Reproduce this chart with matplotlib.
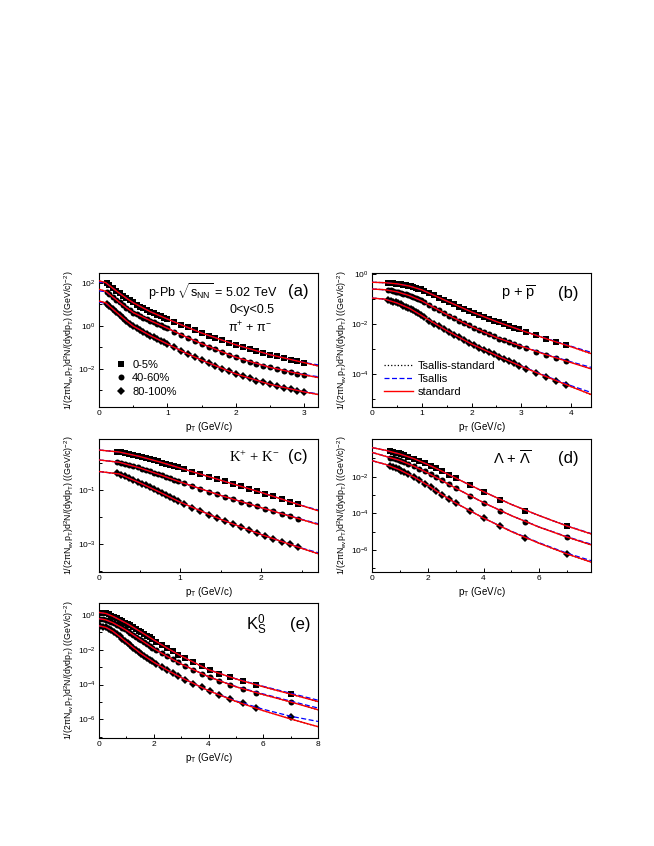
import matplotlib
matplotlib.use('Agg')
import matplotlib.pyplot as plt
from matplotlib import ticker
from matplotlib.lines import Line2D

plt.rcParams['font.family'] = ['Liberation Sans', 'DejaVu Sans']
plt.rcParams['mathtext.fontset'] = 'custom'
plt.rcParams['mathtext.rm'] = 'Liberation Sans'
plt.rcParams['mathtext.it'] = 'Liberation Sans:italic'
plt.rcParams['mathtext.bf'] = 'Liberation Sans:bold'
plt.rcParams['mathtext.default'] = 'regular'

centralities = ['0-5%', '40-60%', '80-100%']
fit_names = ['Tsallis-standard', 'Tsallis', 'standard']

# -- (a) pi+ + pi- -- #
pi_pt = [0.11, 0.15, 0.2, 0.25, 0.3, 0.35, 0.4, 0.45, 0.5, 0.55, 0.6, 0.65, 0.7,
         0.75, 0.8, 0.85, 0.9, 0.95, 1.0, 1.1, 1.2, 1.3, 1.4, 1.5, 1.6, 1.7, 1.8,
         1.9, 2.0, 2.1, 2.2, 2.3, 2.4, 2.5, 2.6, 2.7, 2.8, 2.9, 3.0]
pi_0_5 = [93, 74, 56, 43, 32, 25, 19, 15, 12, 9.5, 7.8, 6.5, 5.4, 4.5, 3.8, 3.2,
          2.75, 2.34, 2.04, 1.51, 1.12, 0.83, 0.62, 0.457, 0.347, 0.269, 0.209,
          0.162, 0.129, 0.102, 0.083, 0.068, 0.055, 0.0447, 0.0372, 0.0309,
          0.0263, 0.0224, 0.0191]
pi_40_60 = [37, 29.5, 21.9, 16.2, 12.0, 9.1, 6.9, 5.25, 4.07, 3.39, 2.85, 2.40,
            2.04, 1.72, 1.45, 1.23, 1.05, 0.89, 0.76, 0.537, 0.380, 0.275, 0.200,
            0.145, 0.107, 0.0794, 0.0589, 0.0447, 0.0339, 0.0263, 0.0209, 0.0170,
            0.0138, 0.0115, 0.00955, 0.00813, 0.00692, 0.00589, 0.00513]
pi_80_100 = [10.7, 8.3, 6.0, 4.37, 3.16, 2.29, 1.70, 1.26, 0.955, 0.759, 0.617,
             0.501, 0.417, 0.347, 0.288, 0.240, 0.200, 0.170, 0.141, 0.100,
             0.0692, 0.0490, 0.0347, 0.0251, 0.0182, 0.0135, 0.0100, 0.00759,
             0.00575, 0.00447, 0.00355, 0.00282, 0.00229, 0.00186, 0.00155,
             0.00132, 0.00112, 0.000955, 0.000832]
pi_fit_pt = [0, 0.1, 0.2, 0.3, 0.4, 0.5, 0.75, 1.0, 1.25, 1.5, 2.0, 2.5, 3.0, 3.2]
pi_std = [[123, 100, 56, 32, 19, 11.7, 4.47, 2.04, 0.955, 0.457, 0.129, 0.0447, 0.0191, 0.0135],
          [49, 39.8, 21.9, 12.0, 6.9, 4.07, 1.72, 0.759, 0.324, 0.145, 0.0339, 0.0115, 0.00513, 0.00389],
          [14.1, 11.5, 6.0, 3.16, 1.70, 0.955, 0.347, 0.141, 0.0575, 0.0251, 0.00575, 0.00186, 0.000832, 0.000631]]
pi_tsa = [[107, 98, 56, 32, 19, 11.7, 4.47, 2.04, 0.955, 0.457, 0.129, 0.0447, 0.0195, 0.0151],
          [41.7, 38, 21.9, 12.0, 6.9, 4.07, 1.72, 0.759, 0.324, 0.145, 0.0339, 0.0115, 0.0053, 0.00427],
          [12.6, 11.0, 6.0, 3.16, 1.70, 0.955, 0.347, 0.141, 0.0575, 0.0251, 0.00575, 0.00186, 0.00085, 0.000676]]

# -- (b) p + pbar -- #
p_pt = [0.325, 0.375, 0.425, 0.475, 0.525, 0.575, 0.625, 0.675, 0.725, 0.775,
        0.825, 0.875, 0.925, 0.975, 1.05, 1.15, 1.25, 1.35, 1.45, 1.55, 1.65,
        1.75, 1.85, 1.95, 2.05, 2.15, 2.25, 2.35, 2.45, 2.55, 2.65, 2.75, 2.85,
        2.95, 3.1, 3.3, 3.5, 3.7, 3.9]
p_0_5 = [0.442, 0.435, 0.425, 0.412, 0.398, 0.385, 0.372, 0.355, 0.339, 0.324,
         0.302, 0.282, 0.263, 0.243, 0.214, 0.174, 0.141, 0.115, 0.0933, 0.0759,
         0.0617, 0.0501, 0.0417, 0.0339, 0.0282, 0.0234, 0.0195, 0.0162, 0.0138,
         0.0117, 0.0100, 0.00851, 0.00724, 0.00617, 0.00479, 0.00355, 0.00263,
         0.00195, 0.00145]
p_40_60 = [0.229, 0.221, 0.211, 0.200, 0.188, 0.178, 0.166, 0.155, 0.143, 0.132,
           0.120, 0.110, 0.100, 0.0902, 0.0759, 0.0589, 0.0457, 0.0355, 0.0275,
           0.0219, 0.0174, 0.0138, 0.0112, 0.00912, 0.00708, 0.00575, 0.00468,
           0.00389, 0.00324, 0.00269, 0.00229, 0.00195, 0.00166, 0.00141,
           0.00112, 0.000813, 0.000603, 0.000447, 0.000339]
p_80_100 = [0.0912, 0.0861, 0.0794, 0.0733, 0.0668, 0.0610, 0.0550, 0.0501,
            0.0457, 0.0407, 0.0355, 0.0309, 0.0269, 0.0232, 0.0186, 0.0138,
            0.0105, 0.00813, 0.00631, 0.00490, 0.00380, 0.00295, 0.00229,
            0.00182, 0.00145, 0.00117, 0.000955, 0.000776, 0.000631, 0.000513,
            0.000417, 0.000339, 0.000275, 0.000224, 0.000170, 0.000117,
            0.0000813, 0.0000562, 0.0000389]
p_fit_pt = [0, 0.25, 0.5, 0.75, 1.0, 1.5, 2.0, 2.5, 3.0, 3.5, 4.0, 4.4]
p_std = [[0.468, 0.452, 0.407, 0.331, 0.234, 0.0841, 0.0309, 0.0127, 0.00569, 0.00263, 0.00126, 0.000676],
         [0.251, 0.237, 0.195, 0.138, 0.0851, 0.0245, 0.00794, 0.00295, 0.00132, 0.000603, 0.000295, 0.000166],
         [0.110, 0.100, 0.0700, 0.0432, 0.0219, 0.00556, 0.00162, 0.000569, 0.000209, 0.0000813, 0.0000324, 0.0000158]]
p_tsa = [[0.468, 0.452, 0.407, 0.331, 0.234, 0.0841, 0.0309, 0.0127, 0.00575, 0.00269, 0.00132, 0.000759],
         [0.251, 0.237, 0.195, 0.138, 0.0851, 0.0245, 0.00794, 0.00295, 0.00135, 0.000631, 0.000316, 0.000191],
         [0.110, 0.100, 0.0700, 0.0432, 0.0219, 0.00556, 0.00162, 0.000575, 0.000214, 0.0000851, 0.0000355, 0.0000191]]

# -- (c) K+ + K- -- #
k_pt = [0.225, 0.275, 0.325, 0.375, 0.425, 0.475, 0.525, 0.575, 0.625, 0.675,
        0.725, 0.775, 0.825, 0.875, 0.925, 0.975, 1.05, 1.15, 1.25, 1.35, 1.45,
        1.55, 1.65, 1.75, 1.85, 1.95, 2.05, 2.15, 2.25, 2.35, 2.45]
k_0_5 = [2.69, 2.51, 2.34, 2.16, 2.00, 1.84, 1.70, 1.55, 1.41, 1.29, 1.16, 1.05,
         0.944, 0.851, 0.767, 0.692, 0.589, 0.479, 0.389, 0.316, 0.257, 0.209,
         0.170, 0.138, 0.112, 0.0912, 0.0724, 0.0589, 0.0468, 0.0372, 0.0295]
k_40_60 = [1.12, 1.05, 0.955, 0.871, 0.785, 0.708, 0.631, 0.562, 0.501, 0.447,
           0.398, 0.351, 0.309, 0.272, 0.240, 0.211, 0.176, 0.138, 0.110, 0.0871,
           0.0700, 0.0562, 0.0457, 0.0372, 0.0302, 0.0245, 0.0200, 0.0162,
           0.0132, 0.0107, 0.00871]
k_80_100 = [0.427, 0.372, 0.324, 0.279, 0.240, 0.204, 0.174, 0.148, 0.126, 0.107,
            0.0912, 0.0767, 0.0646, 0.0543, 0.0457, 0.0385, 0.0302, 0.0221,
            0.0164, 0.0123, 0.00933, 0.00708, 0.00543, 0.00417, 0.00324, 0.00251,
            0.00195, 0.00153, 0.00120, 0.000955, 0.000759]
k_fit_pt = [0, 0.25, 0.5, 0.75, 1.0, 1.5, 2.0, 2.5, 2.7]
k_std = [[3.09, 2.60, 1.78, 1.11, 0.661, 0.232, 0.0813, 0.0263, 0.0170],
         [1.32, 1.08, 0.668, 0.372, 0.200, 0.0631, 0.0221, 0.00794, 0.00525],
         [0.490, 0.398, 0.188, 0.0832, 0.0355, 0.00813, 0.00221, 0.000676, 0.000427]]
k_tsa = [[3.09, 2.60, 1.78, 1.11, 0.661, 0.232, 0.0813, 0.0266, 0.0182],
         [1.32, 1.08, 0.668, 0.372, 0.200, 0.0631, 0.0221, 0.00813, 0.00562],
         [0.490, 0.398, 0.188, 0.0832, 0.0355, 0.00813, 0.00221, 0.000692, 0.000468]]

# -- (d) Lambda + anti-Lambda -- #
l_pt = [0.65, 0.75, 0.85, 0.95, 1.05, 1.15, 1.3, 1.5, 1.7, 1.9, 2.1, 2.3, 2.5,
        2.75, 3.0, 3.5, 4.0, 4.6, 5.5, 7.0]
l_0_5 = [0.234, 0.219, 0.200, 0.182, 0.162, 0.148, 0.123, 0.0955, 0.0724, 0.0537,
         0.0389, 0.0282, 0.0200, 0.0129, 0.00832, 0.00355, 0.00151, 0.000562,
         0.000141, 0.0000191]
l_40_60 = [0.110, 0.100, 0.0891, 0.0794, 0.0708, 0.0617, 0.0501, 0.0372, 0.0269,
           0.0191, 0.0132, 0.00912, 0.00617, 0.00380, 0.00234, 0.000933,
           0.000380, 0.000138, 0.0000347, 0.00000501]
l_80_100 = [0.0363, 0.0324, 0.0282, 0.0245, 0.0209, 0.0178, 0.0138, 0.00955,
            0.00646, 0.00417, 0.00269, 0.00170, 0.00105, 0.000617, 0.000363,
            0.000138, 0.0000550, 0.0000191, 0.00000457, 0.000000603]
l_fit_pt = [0, 0.5, 1.0, 1.5, 2.0, 2.5, 3.0, 4.0, 5.0, 6.0, 7.0, 7.85]
l_std = [[0.380, 0.269, 0.170, 0.0955, 0.0457, 0.0200, 0.00832, 0.00151, 0.000302, 0.0000741, 0.0000200, 0.00000759],
         [0.209, 0.126, 0.0759, 0.0372, 0.0158, 0.00617, 0.00234, 0.000380, 0.0000741, 0.0000174, 0.00000501, 0.00000191],
         [0.0741, 0.0457, 0.0229, 0.00955, 0.00339, 0.00105, 0.000363, 0.0000550, 0.0000100, 0.00000229, 0.000000603, 0.000000219]]
l_tsa = [[0.380, 0.269, 0.170, 0.0955, 0.0457, 0.0200, 0.00832, 0.00151, 0.000302, 0.0000741, 0.0000204, 0.00000794],
         [0.209, 0.126, 0.0759, 0.0372, 0.0158, 0.00617, 0.00234, 0.000380, 0.0000741, 0.0000178, 0.00000525, 0.00000209],
         [0.0741, 0.0457, 0.0229, 0.00955, 0.00339, 0.00105, 0.000363, 0.0000550, 0.0000105, 0.00000245, 0.000000661, 0.000000263]]

# -- (e) K0s -- #
k0_pt = [0.05, 0.15, 0.25, 0.35, 0.45, 0.55, 0.65, 0.75, 0.85, 0.95, 1.05, 1.15,
         1.25, 1.35, 1.45, 1.55, 1.65, 1.75, 1.85, 1.95, 2.1, 2.3, 2.5, 2.7, 2.9,
         3.15, 3.45, 3.75, 4.05, 4.4, 4.8, 5.25, 5.75, 7.0]
k0_0_5 = [1.35, 1.29, 1.20, 1.07, 0.912, 0.759, 0.631, 0.525, 0.437, 0.363, 0.302,
          0.245, 0.200, 0.158, 0.126, 0.100, 0.0794, 0.0631, 0.0501, 0.0407,
          0.0288, 0.0186, 0.0120, 0.00794, 0.00525, 0.00324, 0.00186, 0.00110,
          0.000692, 0.000427, 0.000263, 0.000158, 0.0000955, 0.0000302]
k0_40_60 = [0.589, 0.562, 0.513, 0.457, 0.389, 0.324, 0.269, 0.219, 0.178, 0.145,
            0.117, 0.0933, 0.0724, 0.0562, 0.0437, 0.0339, 0.0263, 0.0209, 0.0166,
            0.0132, 0.00933, 0.00617, 0.00407, 0.00275, 0.00186, 0.00117,
            0.000692, 0.000417, 0.000263, 0.000162, 0.0000977, 0.0000575,
            0.0000339, 0.0000105]
k0_80_100 = [0.229, 0.214, 0.191, 0.162, 0.132, 0.102, 0.0776, 0.0575, 0.0427,
             0.0316, 0.0234, 0.0174, 0.0129, 0.00977, 0.00741, 0.00562, 0.00437,
             0.00339, 0.00269, 0.00214, 0.00151, 0.00100, 0.000661, 0.000447,
             0.000302, 0.000191, 0.000112, 0.0000676, 0.0000417, 0.0000251,
             0.0000145, 0.00000832, 0.00000468, 0.00000141]
k0_fit_pt = [0, 0.25, 0.5, 0.75, 1.0, 1.5, 2.0, 2.5, 3.0, 4.0, 5.0, 6.0, 7.0, 8.0]
k0_std = [[1.38, 1.20, 0.832, 0.525, 0.331, 0.112, 0.0363, 0.0120, 0.00437, 0.000708, 0.000209, 0.0000741, 0.0000282, 0.0000105],
          [0.603, 0.513, 0.355, 0.219, 0.130, 0.0389, 0.0117, 0.00407, 0.00151, 0.000282, 0.0000741, 0.0000263, 0.0000100, 0.00000355],
          [0.234, 0.191, 0.116, 0.0575, 0.0272, 0.00646, 0.00191, 0.000661, 0.000251, 0.0000447, 0.0000107, 0.00000316, 0.00000105, 0.000000380]]
k0_tsa = [[1.38, 1.20, 0.832, 0.525, 0.331, 0.112, 0.0363, 0.0120, 0.00437, 0.000708, 0.000214, 0.0000794, 0.0000316, 0.0000126],
          [0.603, 0.513, 0.355, 0.219, 0.130, 0.0389, 0.0117, 0.00407, 0.00151, 0.000282, 0.0000776, 0.0000288, 0.0000112, 0.00000447],
          [0.234, 0.191, 0.116, 0.0575, 0.0272, 0.00646, 0.00191, 0.000661, 0.000251, 0.0000447, 0.0000115, 0.00000380, 0.00000151, 0.000000759]]


markers = ['s', 'o', 'D']
msizes = [3.9, 4.3, 4.0]
ylab = r'1/(2$\pi$N$_{ev}$p$_T$)d$^2$N/(dydp$_T$) ((GeV/c)$^{-2}$)'
W, H = 654, 846


def make_axes(fig, left, right, top, bottom):
    return fig.add_axes([left / W, 1 - bottom / H, (right - left) / W, (bottom - top) / H])


def panel(ax, pt, data, fit_pt, std, tsa, xlim, ylim, ymaj, ymin, xmaj, xmin):
    for y, m, s in zip(data, markers, msizes):
        ax.plot(pt, y, ls='none', marker=m, ms=s, color='k', mew=0, zorder=2)
    for s, t in zip(std, tsa):
        ax.plot(fit_pt, s, ls=':', color='k', lw=0.9, zorder=3)
        ax.plot(fit_pt, t, ls='--', color='b', lw=0.9, dashes=(4, 2), zorder=4)
        ax.plot(fit_pt, s, ls='-', color='r', lw=1.0, zorder=5)
    ax.set_yscale('log')
    ax.set_xlim(xlim)
    ax.set_ylim(ylim)
    ax.yaxis.set_major_locator(ticker.FixedLocator([10.0 ** e for e in ymaj]))
    ax.yaxis.set_minor_locator(ticker.FixedLocator([10.0 ** e for e in ymin]))
    ax.yaxis.set_major_formatter(ticker.LogFormatterSciNotation())
    ax.yaxis.set_minor_formatter(ticker.NullFormatter())
    ax.xaxis.set_major_locator(ticker.MultipleLocator(xmaj))
    ax.xaxis.set_minor_locator(ticker.MultipleLocator(xmin))
    ax.tick_params(which='both', direction='in', top=False, right=False,
                   labelsize=6, width=0.7)
    ax.tick_params(which='major', length=3, pad=2.5)
    ax.tick_params(which='minor', length=1.8)
    for sp in ax.spines.values():
        sp.set_linewidth(0.8)
    ax.set_xlabel(r'p$_T$ (GeV/c)', fontsize=7, labelpad=2)
    ax.set_ylabel(ylab, fontsize=6.3, labelpad=1)


fig = plt.figure(figsize=(W / 100, H / 100), dpi=100)

ax_a = make_axes(fig, 99, 318, 273, 407)
panel(ax_a, pi_pt, [pi_0_5, pi_40_60, pi_80_100], pi_fit_pt, pi_std, pi_tsa,
      (0, 3.2), (10 ** -3.78, 10 ** 2.45), [2, 0, -2], [1, -1, -3], 1, 0.5)
ax_a.text(0.225, 0.86, r'p-Pb $\sqrt{s_{NN}}$ = 5.02 TeV', transform=ax_a.transAxes,
          fontsize=9, va='center')
ax_a.text(0.91, 0.86, '(a)', transform=ax_a.transAxes, fontsize=12, va='center', ha='center')
ax_a.text(0.70, 0.725, '0<y<0.5', transform=ax_a.transAxes, fontsize=9, va='center', ha='center')
ax_a.text(0.69, 0.59, r'$\pi^{+}$ + $\pi^{-}$', transform=ax_a.transAxes, fontsize=9,
          va='center', ha='center')
cent_handles = [Line2D([], [], ls='none', marker=m, ms=s, color='k', mew=0)
                for m, s in zip(markers, msizes)]
ax_a.legend(cent_handles, centralities, loc='lower left', bbox_to_anchor=(0.04, 0.02),
            frameon=False, fontsize=8, handlelength=1.0, handletextpad=0.5,
            labelspacing=0.3, borderpad=0.2)

ax_b = make_axes(fig, 372, 591, 273, 407)
panel(ax_b, p_pt, [p_0_5, p_40_60, p_80_100], p_fit_pt, p_std, p_tsa,
      (0, 4.4), (10 ** -5.3, 10 ** 0.04), [0, -2, -4], [-1, -3, -5], 1, 0.5)
ax_b.text(0.67, 0.85, r'p + $\overline{\rm p}$', transform=ax_b.transAxes, fontsize=10.5,
          va='center', ha='center')
ax_b.text(0.895, 0.85, '(b)', transform=ax_b.transAxes, fontsize=12, va='center', ha='center')
fit_handles = [Line2D([], [], ls=':', color='k', lw=0.9),
               Line2D([], [], ls='--', color='b', lw=0.9, dashes=(4, 2)),
               Line2D([], [], ls='-', color='r', lw=1.0)]
ax_b.legend(fit_handles, fit_names, loc='lower left', bbox_to_anchor=(0.02, 0.02),
            frameon=False, fontsize=8, handlelength=2.6, handletextpad=0.4,
            labelspacing=0.25, borderpad=0.2)

ax_c = make_axes(fig, 99, 318, 439, 572)
panel(ax_c, k_pt, [k_0_5, k_40_60, k_80_100], k_fit_pt, k_std, k_tsa,
      (0, 2.7), (10 ** -4.05, 10 ** 0.9), [-1, -3], [0, -2, -4], 1, 0.5)
ax_c.text(0.71, 0.865, r'K$^{+}$ + K$^{-}$', transform=ax_c.transAxes, fontsize=10.5,
          va='center', ha='center', family='Liberation Serif')
ax_c.text(0.91, 0.865, '(c)', transform=ax_c.transAxes, fontsize=12, va='center', ha='center')

ax_d = make_axes(fig, 372, 591, 439, 572)
panel(ax_d, l_pt, [l_0_5, l_40_60, l_80_100], l_fit_pt, l_std, l_tsa,
      (0, 7.85), (10 ** -7.2, 10 ** 0.05), [-2, -4, -6], [-1, -3, -5, -7], 2, 1)
ax_d.text(0.64, 0.855, r'$\Lambda$ + $\overline{\Lambda}$', transform=ax_d.transAxes,
          fontsize=10.5, va='center', ha='center')
ax_d.text(0.895, 0.855, '(d)', transform=ax_d.transAxes, fontsize=12, va='center', ha='center')

ax_e = make_axes(fig, 99, 318, 603, 738)
panel(ax_e, k0_pt, [k0_0_5, k0_40_60, k0_80_100], k0_fit_pt, k0_std, k0_tsa,
      (0, 8), (10 ** -7.07, 10 ** 0.68), [0, -2, -4, -6], [-1, -3, -5, -7], 2, 1)
ax_e.text(0.72, 0.84, r'K$^{0}_{S}$', transform=ax_e.transAxes, fontsize=12,
          va='center', ha='center')
ax_e.text(0.92, 0.84, '(e)', transform=ax_e.transAxes, fontsize=12, va='center', ha='center')

fig.savefig('out.png', dpi=100)
